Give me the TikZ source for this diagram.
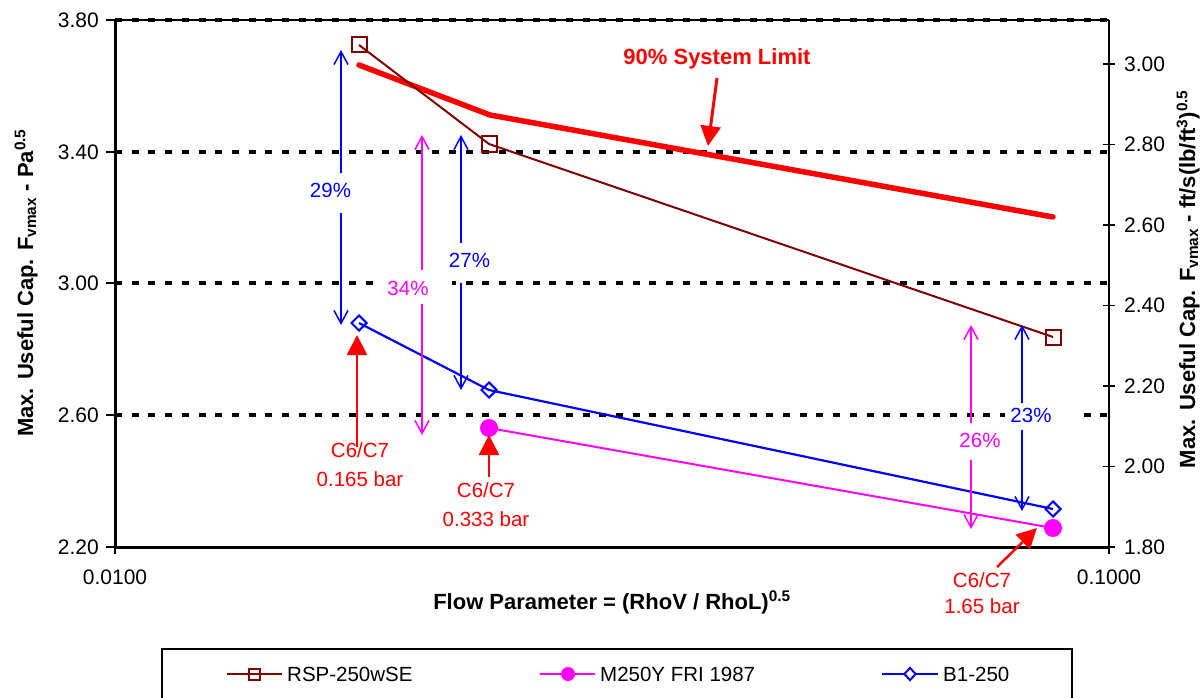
\documentclass[tikz,border=0pt]{standalone}
\usepackage{fontspec}
\setmainfont{Liberation Sans}
\usetikzlibrary{arrows.meta,shapes.geometric}
\definecolor{rspcol}{HTML}{800000}
\definecolor{mgcol}{HTML}{FF00FF}
\definecolor{blcol}{HTML}{0000FF}
\definecolor{rdcol}{HTML}{FF0000}
\begin{document}
\begin{tikzpicture}[x=1pt,y=-1pt,
  ticklab/.style={inner sep=0pt,font=\fontsize{21}{25}\selectfont},
  axlab/.style={inner sep=0pt,font=\bfseries\fontsize{22}{26}\selectfont},
  gridln/.style={line width=3.5pt,dash pattern=on 7pt off 9.7pt},
  annot/.style={line width=1.5pt,-{Straight Barb[length=13pt,width=14pt]}},
  pctlab/.style={inner sep=0pt,font=\fontsize{20.5}{24}\selectfont,anchor=base},
  redarr/.style={rdcol,line width=2.5pt,-{Triangle[length=20pt,width=20pt]}},
  redlab/.style={inner sep=0pt,text=rdcol,font=\fontsize{20.5}{24}\selectfont,anchor=base},
  sqmark/.style={draw=rspcol,line width=2pt,rectangle,minimum size=15pt,inner sep=0pt},
  dimark/.style={draw=blcol,line width=2pt,diamond,minimum width=16pt,minimum height=16pt,inner sep=0pt},
  cimark/.style={fill=mgcol,circle,minimum size=18pt,inner sep=0pt},
  legtxt/.style={inner sep=0pt,anchor=west,font=\fontsize{20.5}{24}\selectfont}]
\useasboundingbox (0,0) rectangle (1204,698);

% plot frame coordinates
\coordinate (tl) at (115,20);
\coordinate (tr) at (1109,20);
\coordinate (bl) at (115,547);
\coordinate (br) at (1109,547);

% gridlines
\draw[gridln] (115,152) -- (1109,152);
\draw[gridln] (115,283) -- (1109,283);
\draw[gridln] (115,415) -- (1109,415);
\draw[line width=1.5pt] (tl) -- (tr);
\draw[gridln] (tl) -- (tr);
\draw[line width=2pt] (tr) -- (br);

% white backgrounds of labels lying on gridlines
\fill[white] (382,271) rectangle (452,303);
\fill[white] (1005,404) rectangle (1082,428);

% axes
\draw[line width=3pt] (tl) -- (bl) -- (br);
\foreach \yy in {20,152,283,415,547} \draw[line width=2pt] (106,\yy) -- (115,\yy);
\draw[line width=2pt] (115,547) -- (115,554);
\draw[line width=2pt] (1109,547) -- (1109,554);
\foreach \yy in {64,144.5,225,305.5,386,466.5,547} \draw[line width=1.5pt] (1103,\yy) -- (1115,\yy);

% tick labels
\node[ticklab,anchor=east] (y380) at (99,20) {3.80};
\node[ticklab,anchor=east] (y340) at (99,152) {3.40};
\node[ticklab,anchor=east] (y300) at (99,283) {3.00};
\node[ticklab,anchor=east] (y260) at (99,415) {2.60};
\node[ticklab,anchor=east] (y220) at (99,547) {2.20};
\node[ticklab,anchor=west] (z300) at (1124,64) {3.00};
\node[ticklab,anchor=west] (z280) at (1124,144.5) {2.80};
\node[ticklab,anchor=west] (z260) at (1124,225) {2.60};
\node[ticklab,anchor=west] (z240) at (1124,305.5) {2.40};
\node[ticklab,anchor=west] (z220) at (1124,386) {2.20};
\node[ticklab,anchor=west] (z200) at (1124,466.5) {2.00};
\node[ticklab,anchor=west] (z180) at (1124,547) {1.80};
\node[ticklab] (x001) at (115,577) {0.0100};
\node[ticklab] (x01) at (1109,577) {0.1000};

% axis titles
\node[axlab,anchor=base] (xtitle) at (612,609) {Flow Parameter = (RhoV / RhoL)\textsuperscript{0.5}};
\node[axlab,anchor=base,rotate=90] (ytitle) at (33,283) {Max. Useful Cap. F\textsubscript{vmax} - Pa\textsuperscript{0.5}};
\node[axlab,anchor=base,rotate=90] (y2title) at (1195,279) {Max. Useful Cap. F\textsubscript{vmax} - ft/s(lb/ft\textsuperscript{3})\textsuperscript{0.5}};

% data points
\coordinate (r1) at (359,45);
\coordinate (r2) at (489,144);
\coordinate (r3) at (1053,337);
\coordinate (b1) at (359,323);
\coordinate (b2) at (489,390);
\coordinate (b3) at (1053,509);
\coordinate (m2) at (489,428);
\coordinate (m3) at (1053,528);
\coordinate (s1) at (359,65);
\coordinate (s2) at (490,115);
\coordinate (s3) at (1053,217);

% series
\draw[rdcol,line width=5.5pt,line cap=round,line join=round] (s1) -- (s2) -- (s3);
\draw[rspcol,line width=2pt] (r1) -- (r2) -- (r3);
\draw[blcol,line width=2.2pt] (b1) -- (b2) -- (b3);
\draw[mgcol,line width=2pt] (m2) -- (m3);
\node[sqmark] (R1) at (r1) {};
\node[sqmark] (R2) at (r2) {};
\node[sqmark] (R3) at (r3) {};
\node[dimark] (B1) at (b1) {};
\node[dimark] (B2) at (b2) {};
\node[dimark] (B3) at (b3) {};
\node[cimark] (M2) at (m2) {};
\node[cimark] (M3) at (m3) {};

% percentage arrows
\coordinate (p29a) at (341,173); \coordinate (p29t) at (341,50);
\coordinate (p29b) at (341,213); \coordinate (p29d) at (341,325);
\draw[annot,blcol] (p29a) -- (p29t);
\draw[annot,blcol] (p29b) -- (p29d);
\node[pctlab,text=blcol] (l29) at (330.5,197) {29\%};

\coordinate (p34a) at (422,270); \coordinate (p34t) at (422,135);
\coordinate (p34b) at (422,304); \coordinate (p34d) at (422,435);
\draw[annot,mgcol] (p34a) -- (p34t);
\draw[annot,mgcol] (p34b) -- (p34d);
\node[pctlab,text=mgcol] (l34) at (408,295) {34\%};

\coordinate (p27a) at (461,243); \coordinate (p27t) at (461,135);
\coordinate (p27b) at (461,283); \coordinate (p27d) at (461,390);
\draw[annot,blcol] (p27a) -- (p27t);
\draw[annot,blcol] (p27b) -- (p27d);
\node[pctlab,text=blcol] (l27) at (469.5,267) {27\%};

\coordinate (p26a) at (971,423); \coordinate (p26t) at (971,325);
\coordinate (p26b) at (971,460); \coordinate (p26d) at (971,529);
\draw[annot,mgcol] (p26a) -- (p26t);
\draw[annot,mgcol] (p26b) -- (p26d);
\node[pctlab,text=mgcol] (l26) at (980,447) {26\%};

\coordinate (p23a) at (1022,403); \coordinate (p23t) at (1022,325);
\coordinate (p23b) at (1022,430); \coordinate (p23d) at (1022,511);
\draw[annot,blcol] (p23a) -- (p23t);
\draw[annot,blcol] (p23b) -- (p23d);
\node[pctlab,text=blcol] (l23) at (1031,422) {23\%};

% red annotations
\node[inner sep=0pt,anchor=base,text=rdcol,font=\bfseries\fontsize{22}{26}\selectfont] (lim) at (717,65) {90\% System Limit};
\coordinate (limA) at (717,78); \coordinate (limB) at (708,146);
\draw[redarr,line width=3pt] (limA) -- (limB);

\coordinate (c1a) at (357,447); \coordinate (c1b) at (357,335);
\draw[redarr] (c1a) -- (c1b);
\node[redlab] (c1t) at (360,457) {C6/C7};
\node[redlab] (c1u) at (360,486) {0.165 bar};

\coordinate (c2a) at (489,477); \coordinate (c2b) at (489,435);
\draw[redarr] (c2a) -- (c2b);
\node[redlab] (c2t) at (486,497) {C6/C7};
\node[redlab] (c2u) at (486,526) {0.333 bar};

\coordinate (c3a) at (997,567); \coordinate (c3b) at (1037,528);
\draw[redarr] (c3a) -- (c3b);
\node[redlab] (c3t) at (982,587) {C6/C7};
\node[redlab] (c3u) at (982,613) {1.65 bar};

% legend
\draw[line width=1.2pt] (162,649) rectangle (1072,720);
\coordinate (g1a) at (227,674); \coordinate (g1b) at (282,674);
\draw[rspcol,line width=2pt] (g1a) -- (g1b);
\node[sqmark,minimum size=11pt] (G1) at (254,674) {};
\node[legtxt] (t1) at (287,674) {RSP-250wSE};
\coordinate (g2a) at (540,674); \coordinate (g2b) at (595,674);
\draw[mgcol,line width=2pt] (g2a) -- (g2b);
\node[cimark,minimum size=14pt] (G2) at (568,674) {};
\node[legtxt] (t2) at (600,674) {M250Y FRI 1987};
\coordinate (g3a) at (882,674); \coordinate (g3b) at (938,674);
\draw[blcol,line width=2pt] (g3a) -- (g3b);
\node[dimark,minimum width=12pt,minimum height=13pt,fill=white] (G3) at (910,674) {};
\node[legtxt] (t3) at (943,674) {B1-250};
\end{tikzpicture}
\end{document}
